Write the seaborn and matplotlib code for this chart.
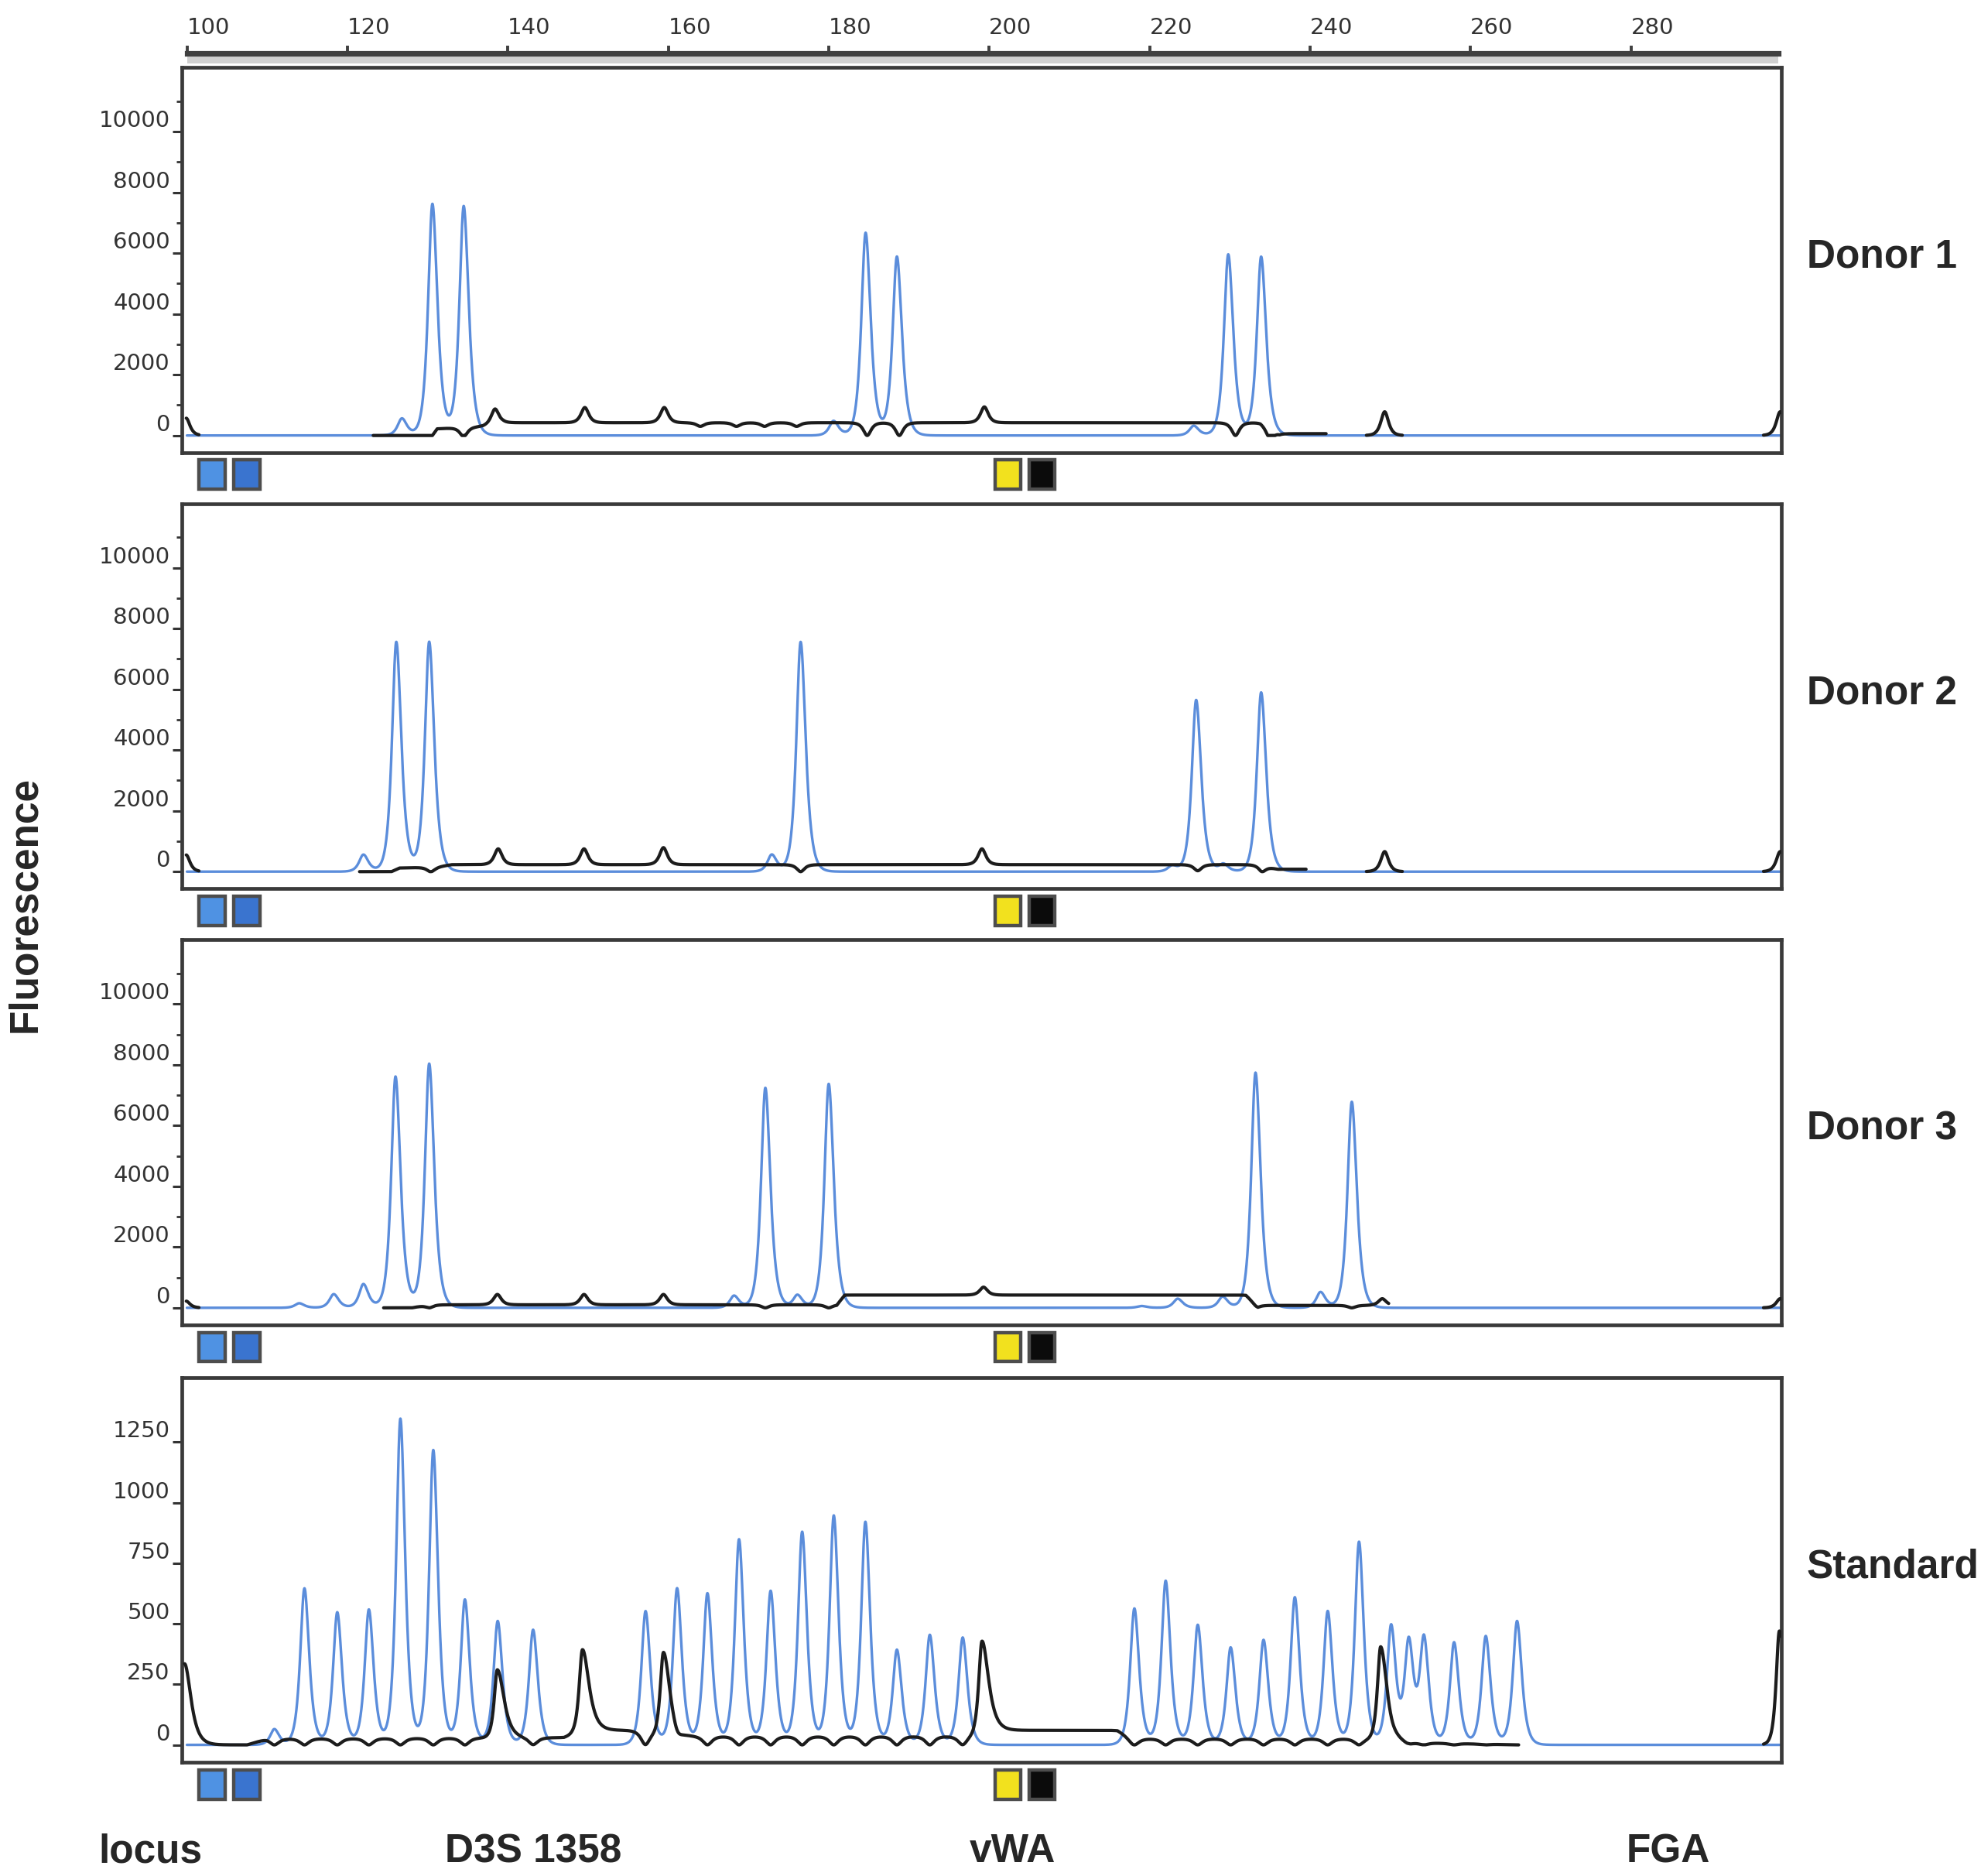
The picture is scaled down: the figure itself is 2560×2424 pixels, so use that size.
import numpy as np
import pandas as pd
import matplotlib.pyplot as plt
from matplotlib.patches import Rectangle
from matplotlib.transforms import blended_transform_factory
import seaborn as sns

# --- data: peak size (bp) and height (RFU) ---
# Donor 1
D1_BLUE_BP = [126.8, 130.6, 134.5, 180.6, 184.6, 188.5, 225.5, 229.8, 233.9]
D1_BLUE_RFU = [560, 7620, 7540, 480, 6670, 5880, 320, 5960, 5880]
D1_BLACK_BP = [99.9, 134.5, 138.4, 149.6, 159.5, 164.0, 168.5, 172.0, 176.0, 184.8, 188.8, 199.4, 230.7, 235.0, 249.3, 298.6]
D1_BLACK_RFU = [570, -300, 500, 500, 500, -120, -120, -120, -120, -420, -420, 520, -420, -350, 780, 780]
D1_LEVEL_BP = [123.2, 130.6, 131.2, 136.9, 139.4, 233.8, 236.2, 242.0]
D1_LEVEL_RFU = [0, 0, 220, 300, 420, 420, 60, 60]
D1_BLACK_SPANS = [(99.9, 101.5), (123.2, 242.0), (247.0, 251.5), (296.5, 298.74)]

# Donor 2
D2_BLUE_BP = [122.0, 126.1, 130.2, 172.9, 176.5, 222.8, 225.8, 229.2, 233.9]
D2_BLUE_RFU = [560, 7560, 7560, 560, 7560, 200, 5650, 250, 5900]
D2_BLACK_BP = [99.9, 130.4, 138.8, 149.5, 159.4, 176.5, 199.1, 226.0, 234.0, 249.3, 298.6]
D2_BLACK_RFU = [550, -150, 520, 520, 560, -230, 520, -200, -200, 660, 660]
D2_LEVEL_BP = [121.5, 125.5, 126.5, 131.0, 133.0, 233.5, 236.0, 239.5]
D2_LEVEL_RFU = [0, 0, 120, 150, 230, 230, 80, 80]
D2_BLACK_SPANS = [(99.9, 101.5), (121.5, 239.5), (247.0, 251.5), (296.5, 298.74)]

# Donor 3
D3_BLUE_BP = [114.0, 118.3, 122.0, 126.0, 130.2, 168.2, 172.1, 176.1, 180.0, 219.0, 223.5, 229.1, 233.2, 241.3, 245.2]
D3_BLUE_RFU = [150, 450, 780, 7610, 8030, 400, 7240, 420, 7370, 60, 300, 370, 7740, 520, 6780]
D3_BLACK_BP = [99.9, 126.0, 130.2, 138.7, 149.5, 159.4, 172.1, 180.0, 199.3, 233.2, 245.2, 249.0, 298.6]
D3_BLACK_RFU = [220, -100, -100, 340, 340, 340, -100, -100, 260, -80, -80, 220, 300]
D3_LEVEL_BP = [124.5, 128.0, 130.0, 181.0, 182.0, 232.0, 233.5, 249.8]
D3_LEVEL_RFU = [0, 0, 100, 100, 420, 420, 80, 80]
D3_BLACK_SPANS = [(99.9, 101.5), (124.5, 249.8), (296.5, 298.74)]

# Size standard
STD_BLUE_BP = [110.9, 114.65, 118.74, 122.68, 126.61, 130.71, 134.65, 138.74, 143.15,
               157.17, 161.1, 164.88, 168.82, 172.76, 176.69, 180.63, 184.57, 188.5,
               192.6, 196.7, 218.1, 222.0, 226.0, 230.1, 234.2, 238.1, 242.2, 246.1,
               250.1, 252.3, 254.2, 257.95, 261.9, 265.8]
STD_BLUE_RFU = [65, 646, 547, 558, 1346, 1216, 599, 511, 475,
                552, 646, 625, 848, 635, 879, 946, 920, 392,
                454, 443, 563, 677, 495, 402, 433, 609, 552, 838,
                490, 418, 433, 423, 449, 511]
STD_BLACK_BP = [99.7, 138.7, 149.3, 159.4, 199.1, 248.8, 298.5]
STD_BLACK_RFU = [335, 310, 340, 350, 380, 390, 470]
STD_LEVEL_BP = [100.8, 107.5, 110.0, 147.0, 150.0, 157.0, 158.5, 198.0, 200.0, 216.0, 218.0, 246.0, 252.0, 266.0]
STD_LEVEL_RFU = [0, 0, 25, 30, 60, 60, 35, 35, 60, 60, 25, 25, 10, 0]
STD_BLACK_SPANS = [(99.7, 266.0), (296.5, 298.74)]

PANEL_NAMES = ["Donor 1", "Donor 2", "Donor 3", "Standard"]
LOCUS_LABELS = ["locus", "D3S 1358", "vWA", "FGA"]
RULER_TICKS = [100, 120, 140, 160, 180, 200, 220, 240, 260, 280]
DONOR_YTICKS = [0, 2000, 4000, 6000, 8000, 10000]
DONOR_YMINOR = [1000, 3000, 5000, 7000, 9000, 11000]
STD_YTICKS = [0, 250, 500, 750, 1000, 1250]

# --- layout / style ---
XLIM = (99.37, 298.74)
LEFT, WIDTH, HEIGHT = 0.0918, 0.8074, 0.2052
BOTTOMS = [0.7588, 0.5263, 0.2938, 0.0606]
LABEL_Y = [0.8632, 0.630, 0.3982, 0.1644]
LOCUS_X = [0.0497, 0.2245, 0.4892, 0.8208]
DYE_BOX_BP = [103.12, 107.45, 202.35, 206.6]
DYE_BOX_COLORS = ["#4f92e3", "#3a74cf", "#f2e11e", "#0b0b0b"]
BLUE = "#5b8ddb"
BLACK = "#1c1c1c"
FRAME = "#3a3a3a"

sns.set_style("white")
plt.rcParams["font.family"] = ["DejaVu Sans"]
BOLD = ["Liberation Sans", "DejaVu Sans"]


def peak_sum(x, pos, rfu, wl, wr):
    y = np.zeros_like(x)
    for p, h in zip(pos, rfu):
        d = x - p
        z = np.clip(d / np.where(d < 0, wl, wr), -60, 60)
        y += h / np.cosh(z)
    return y


def black_frame(x, spans, y):
    parts = []
    for i, (a, b) in enumerate(spans):
        m = (x >= a) & (x <= b)
        parts.append(pd.DataFrame({"bp": x[m], "rfu": y[m], "seg": i}))
    return pd.concat(parts, ignore_index=True)


xb = np.arange(100.0, 298.62, 0.02)
xk = np.arange(99.7, 298.74, 0.02)

panels = [
    (D1_BLUE_BP, D1_BLUE_RFU, D1_BLACK_BP, D1_BLACK_RFU, D1_LEVEL_BP, D1_LEVEL_RFU, D1_BLACK_SPANS),
    (D2_BLUE_BP, D2_BLUE_RFU, D2_BLACK_BP, D2_BLACK_RFU, D2_LEVEL_BP, D2_LEVEL_RFU, D2_BLACK_SPANS),
    (D3_BLUE_BP, D3_BLUE_RFU, D3_BLACK_BP, D3_BLACK_RFU, D3_LEVEL_BP, D3_LEVEL_RFU, D3_BLACK_SPANS),
    (STD_BLUE_BP, STD_BLUE_RFU, STD_BLACK_BP, STD_BLACK_RFU, STD_LEVEL_BP, STD_LEVEL_RFU, STD_BLACK_SPANS),
]

fig = plt.figure(figsize=(12.8, 12.12), dpi=200)

# size ruler on top
rax = fig.add_axes([LEFT, 0.9663, WIDTH, 0.0051])
rax.set_xlim(XLIM)
rax.set_ylim(0, 1)
rax.set_facecolor("none")
rax.axvspan(100, 298.4, color="#d0d0d0", lw=0)
for s in ["left", "right", "bottom"]:
    rax.spines[s].set_visible(False)
rax.spines["top"].set_bounds(100, 298.4)
rax.spines["top"].set_color("#404040")
rax.spines["top"].set_linewidth(2.6)
rax.xaxis.tick_top()
rax.set_xticks(RULER_TICKS, labels=[str(t) for t in RULER_TICKS], ha="left")
rax.tick_params(axis="x", top=True, bottom=False, direction="out", length=3.5, width=1.4,
                color="#404040", pad=3.5, labelsize=10.5, labelcolor="#333333")
rax.set_yticks([])

for i, (bbp, brfu, kbp, krfu, lbp, lrfu, spans) in enumerate(panels):
    ax = fig.add_axes([LEFT, BOTTOMS[i], WIDTH, HEIGHT])
    is_std = i == 3

    if is_std:
        blue = peak_sum(xb, bbp, brfu, 0.46, 0.52)
    else:
        blue = peak_sum(xb, bbp, brfu, 0.47, 0.55)
    level = np.interp(xk, lbp, lrfu, left=0, right=0)
    if is_std:
        # black sits down under every size-standard peak
        dip = np.clip(peak_sum(xk, bbp, np.ones(len(bbp)), 0.5, 0.5), 0, 1)
        black = level * (1 - dip) + peak_sum(xk, kbp, krfu, 0.35, 0.7)
    else:
        black = np.clip(level + peak_sum(xk, kbp, krfu, 0.42, 0.42), 0, None)

    sns.lineplot(x=xb, y=blue, ax=ax, color=BLUE, lw=1.2, sort=False, zorder=2)
    sns.lineplot(data=black_frame(xk, spans, black), x="bp", y="rfu", units="seg",
                 estimator=None, sort=False, ax=ax, color=BLACK, lw=1.5, zorder=3, legend=False)

    ax.set_xlim(XLIM)
    ax.set_xticks([])
    ax.set_xlabel("")
    ax.set_ylabel("")
    if is_std:
        ax.set_ylim(-72, 1517)
        ax.set_yticks(STD_YTICKS, labels=[str(t) for t in STD_YTICKS], va="bottom")
    else:
        ax.set_ylim(-560, 12110)
        ax.set_yticks(DONOR_YTICKS, labels=[str(t) for t in DONOR_YTICKS], va="bottom")
        ax.set_yticks(DONOR_YMINOR, minor=True)
    ax.tick_params(axis="y", which="major", left=True, direction="out", length=4.5, width=1.1,
                   color="#333333", pad=1, labelsize=10.5, labelcolor="#333333")
    ax.tick_params(axis="y", which="minor", left=True, direction="out", length=2.5, width=1.0,
                   color="#333333")
    for s in ax.spines.values():
        s.set_visible(True)
        s.set_color(FRAME)
        s.set_linewidth(1.7)

    # dye colour boxes under each trace
    tr = blended_transform_factory(ax.transData, ax.transAxes)
    for bx, c in zip(DYE_BOX_BP, DYE_BOX_COLORS):
        ax.add_patch(Rectangle((bx - 1.62, -0.0575 - 0.0379), 3.24, 0.0758, transform=tr,
                               facecolor=c, edgecolor="#4d4d4d", lw=1.6, clip_on=False))

    fig.text(0.912, LABEL_Y[i], PANEL_NAMES[i], ha="left", va="center",
             fontsize=18.5, fontweight="bold", family=BOLD)

fig.text(0.0128, 0.518, "Fluorescence", rotation=90, ha="center", va="center",
         fontsize=18.5, fontweight="bold", family=BOLD)
for lx, lab in zip(LOCUS_X, LOCUS_LABELS):
    fig.text(lx, 0.0128, lab, ha="left", va="center", fontsize=18.5, fontweight="bold", family=BOLD)

fig.savefig("out.png", dpi=200, facecolor="white")
